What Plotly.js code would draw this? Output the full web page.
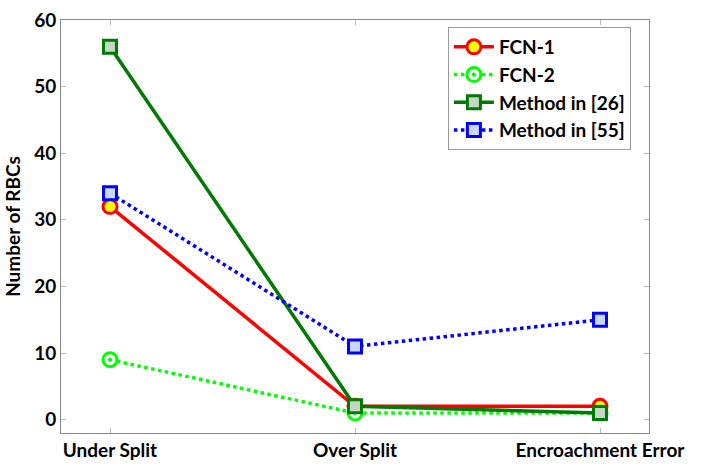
<!DOCTYPE html>
<html>
<head>
<meta charset="utf-8">
<script src="https://cdn.plot.ly/plotly-3.0.1.min.js"></script>
<style>body{margin:0;background:#fff}#chart{width:712px;height:476px}</style>
</head>
<body>
<div id="chart"></div>
<script>
const categories = ['Under Split', 'Over Split', 'Encroachment Error'];
const fcn1 = [32, 2, 2];
const fcn2 = [9, 1, 1];
const method26 = [56, 2, 1];
const method55 = [34, 11, 15];

const idx = [0, 1, 2];

const data = [
  {
    x: idx, y: fcn1, type: 'scatter', mode: 'lines+markers', name: 'FCN-1',
    line: {color: '#ff0000', width: 3.5},
    marker: {symbol: 'circle', size: 14, color: '#ffff00', line: {color: '#ff0000', width: 3}}
  },
  {
    x: idx, y: fcn2, type: 'scatter', mode: 'lines+markers', name: 'FCN-2',
    line: {color: '#00ff00', width: 3.5, dash: 'dot'},
    marker: {symbol: 'circle-dot', size: 14, color: '#ffffff', line: {color: '#00ff00', width: 3}}
  },
  {
    x: idx, y: method26, type: 'scatter', mode: 'lines+markers', name: 'Method in [26]',
    line: {color: '#007a00', width: 3.5},
    marker: {symbol: 'square', size: 13, color: '#c4d6c4', line: {color: '#007a00', width: 3}}
  },
  {
    x: idx, y: method55, type: 'scatter', mode: 'lines+markers', name: 'Method in [55]',
    line: {color: '#0000ff', width: 3.5, dash: 'dot'},
    marker: {symbol: 'square', size: 13, color: '#c8d8f0', line: {color: '#0000ff', width: 3}}
  }
];

const fam = 'Lato, "Open Sans", sans-serif';
const axisFont = {family: fam, size: 19, color: '#000'};

const layout = {
  width: 712, height: 476,
  margin: {l: 61, r: 63, t: 20, b: 43},
  paper_bgcolor: '#fff', plot_bgcolor: '#fff',
  showlegend: true,
  font: {family: fam, color: '#000'},
  xaxis: {
    range: [-0.2, 2.2],
    tickvals: idx, ticktext: categories.map(c => '<b>' + c + '</b>'),
    tickfont: axisFont,
    showgrid: false, zeroline: false,
    showline: true, mirror: 'ticks', linecolor: '#888', linewidth: 1,
    ticks: 'inside', ticklen: 5, tickcolor: '#bbb'
  },
  yaxis: {
    range: [-2, 60],
    tickvals: [0, 10, 20, 30, 40, 50, 60],
    ticktext: ['0', '10', '20', '30', '40', '50', '60'].map(t => '<b>' + t + '</b>'),
    tickfont: axisFont,
    showgrid: false, zeroline: false,
    showline: true, mirror: 'ticks', linecolor: '#888', linewidth: 1,
    ticks: 'inside', ticklen: 5, tickcolor: '#bbb',
    title: {text: '<b>Number of RBCs</b>', font: {family: fam, size: 19, color: '#000'}, standoff: 8}
  },
  legend: {
    x: 0.658, y: 0.983, xanchor: 'left', yanchor: 'top',
    bgcolor: '#fff', bordercolor: '#999', borderwidth: 1,
    font: {family: fam, size: 19, color: '#000'},
    tracegroupgap: 0, itemwidth: 40
  }
};

// bold legend labels
data.forEach(d => { d.name = '<b>' + d.name + '</b>'; });

Plotly.newPlot('chart', data, layout, {displayModeBar: false, staticPlot: true});
</script>
</body>
</html>
